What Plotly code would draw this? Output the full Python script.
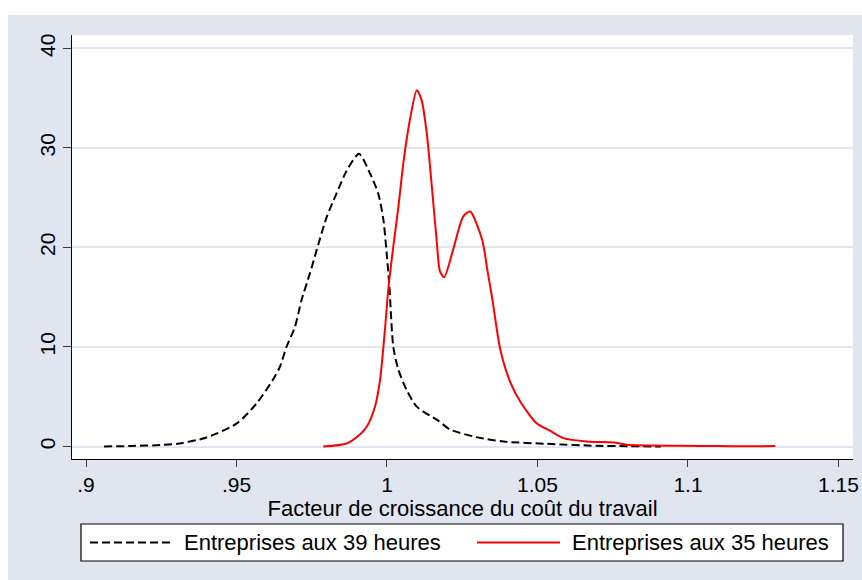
import plotly.graph_objects as go

# Kernel density estimates of the labour-cost growth factor
x39 = [0.906, 0.915, 0.925, 0.931, 0.940, 0.950, 0.9566, 0.9621, 0.9644, 0.9666,
       0.9694, 0.9716, 0.9744, 0.9766, 0.9799, 0.9832, 0.9866, 0.9907, 0.9944,
       0.9971, 0.9988, 0.9999, 1.0008, 1.0021, 1.0038, 1.0065, 1.0099, 1.0170,
       1.0210, 1.0298, 1.0387, 1.0530, 1.0697, 1.0800, 1.0910]
y39 = [0.0, 0.05, 0.15, 0.3, 0.9, 2.3, 4.3, 6.7, 8.0, 10.0,
       12.0, 14.7, 17.4, 19.7, 23.0, 25.4, 27.7, 29.4, 27.4,
       25.4, 22.8, 19.4, 16.1, 10.0, 7.7, 5.7, 4.0, 2.6,
       1.7, 0.94, 0.5, 0.27, 0.07, 0.03, 0.0]

x35 = [0.9788, 0.9866, 0.9910, 0.9933, 0.9960, 0.9977, 0.9993, 1.0005, 1.0021,
       1.0038, 1.0054, 1.0076, 1.0099, 1.0115, 1.0132, 1.0149, 1.0165, 1.0176,
       1.0190, 1.0220, 1.0253, 1.0276, 1.0316, 1.0333, 1.0350, 1.0376, 1.0409,
       1.0443, 1.0498, 1.0541, 1.0586, 1.0664, 1.0753, 1.0797, 1.0974, 1.1100,
       1.1200, 1.1290]
y35 = [0.0, 0.3, 1.2, 2.0, 4.0, 6.7, 11.7, 16.0, 20.1,
       24.1, 28.4, 32.8, 35.8, 34.8, 31.5, 26.1, 20.7, 17.6,
       17.0, 19.8, 23.1, 23.6, 20.8, 17.8, 14.8, 9.8, 6.5,
       4.5, 2.3, 1.6, 0.84, 0.5, 0.4, 0.17, 0.07, 0.05,
       0.02, 0.05]

series_names = ["Entreprises aux 39 heures", "Entreprises aux 35 heures"]
x_title = "Facteur de croissance du coût du travail"
xtick_vals = [0.9, 0.95, 1.0, 1.05, 1.1, 1.15]
xtick_text = [".9", ".95", "1", "1.05", "1.1", "1.15"]
ytick_vals = [0, 10, 20, 30, 40]

W, H = 862, 580
L, R, T, B = 72, 9, 35, 121
PW, PH = W - L - R, H - T - B

BG = "rgb(224,229,240)"
FONT = "Liberation Sans, Arial, Helvetica, sans-serif"
DASH = "8px,4px"


def px(xp):
    return (xp - L) / PW


def py(yp):
    return (H - B - yp) / PH


fig = go.Figure()
fig.add_trace(go.Scatter(
    x=x39, y=y39, mode="lines", name=series_names[0], showlegend=False,
    line=dict(color="black", width=2, dash=DASH, shape="spline", smoothing=0.7),
))
fig.add_trace(go.Scatter(
    x=x35, y=y35, mode="lines", name=series_names[1], showlegend=False,
    line=dict(color="rgb(255,0,0)", width=2, shape="spline", smoothing=0.7),
))

shapes = [
    # white border at the top and left of the graph region
    dict(type="rect", xref="paper", yref="paper", x0=-0.3, x1=1.1,
         y0=py(15), y1=1.3, fillcolor="white", line_width=0, layer="below"),
    dict(type="rect", xref="paper", yref="paper", x0=-0.3, x1=px(8),
         y0=-0.4, y1=1.3, fillcolor="white", line_width=0, layer="below"),
    # legend box
    dict(type="rect", xref="paper", yref="paper", x0=px(81), x1=px(843),
         y0=py(561), y1=py(524), fillcolor="white",
         line=dict(color="black", width=1.2)),
    dict(type="line", xref="paper", yref="paper", x0=px(90), x1=px(172),
         y0=py(542.5), y1=py(542.5), line=dict(color="black", width=2, dash=DASH)),
    dict(type="line", xref="paper", yref="paper", x0=px(477), x1=px(560),
         y0=py(542.5), y1=py(542.5), line=dict(color="rgb(255,0,0)", width=2)),
]

annotations = [
    dict(text=series_names[0], xref="paper", yref="paper", x=px(182), y=py(542.5),
         xanchor="left", yanchor="middle", showarrow=False,
         font=dict(family=FONT, size=22, color="black")),
    dict(text=series_names[1], xref="paper", yref="paper", x=px(570), y=py(542.5),
         xanchor="left", yanchor="middle", showarrow=False,
         font=dict(family=FONT, size=22, color="black")),
]

fig.update_layout(
    width=W, height=H, autosize=False,
    margin=dict(l=L, r=R, t=T, b=B, pad=0),
    paper_bgcolor=BG, plot_bgcolor="white",
    font=dict(family=FONT, size=21, color="black"),
    shapes=shapes, annotations=annotations,
    showlegend=False,
)
fig.update_xaxes(
    range=[0.89535, 1.15482], tickvals=xtick_vals, ticktext=xtick_text,
    ticks="outside", ticklen=7, tickwidth=1.2, tickcolor="rgb(60,60,60)",
    showline=True, linecolor="black", linewidth=1.2,
    showgrid=False, zeroline=False,
    tickfont=dict(family=FONT, size=21, color="black"),
    title=dict(text=x_title, standoff=0, font=dict(family=FONT, size=22, color="black")),
    automargin=False,
)
fig.update_yaxes(
    range=[-1.256, 41.34], tickvals=ytick_vals, tickangle=-90,
    ticks="outside", ticklen=8, tickwidth=1.2, tickcolor="rgb(60,60,60)",
    showline=True, linecolor="black", linewidth=1.2,
    showgrid=True, gridcolor=BG, gridwidth=1.7, zeroline=False,
    tickfont=dict(family=FONT, size=21, color="black"),
    automargin=False,
)

fig.write_html("out.html")
